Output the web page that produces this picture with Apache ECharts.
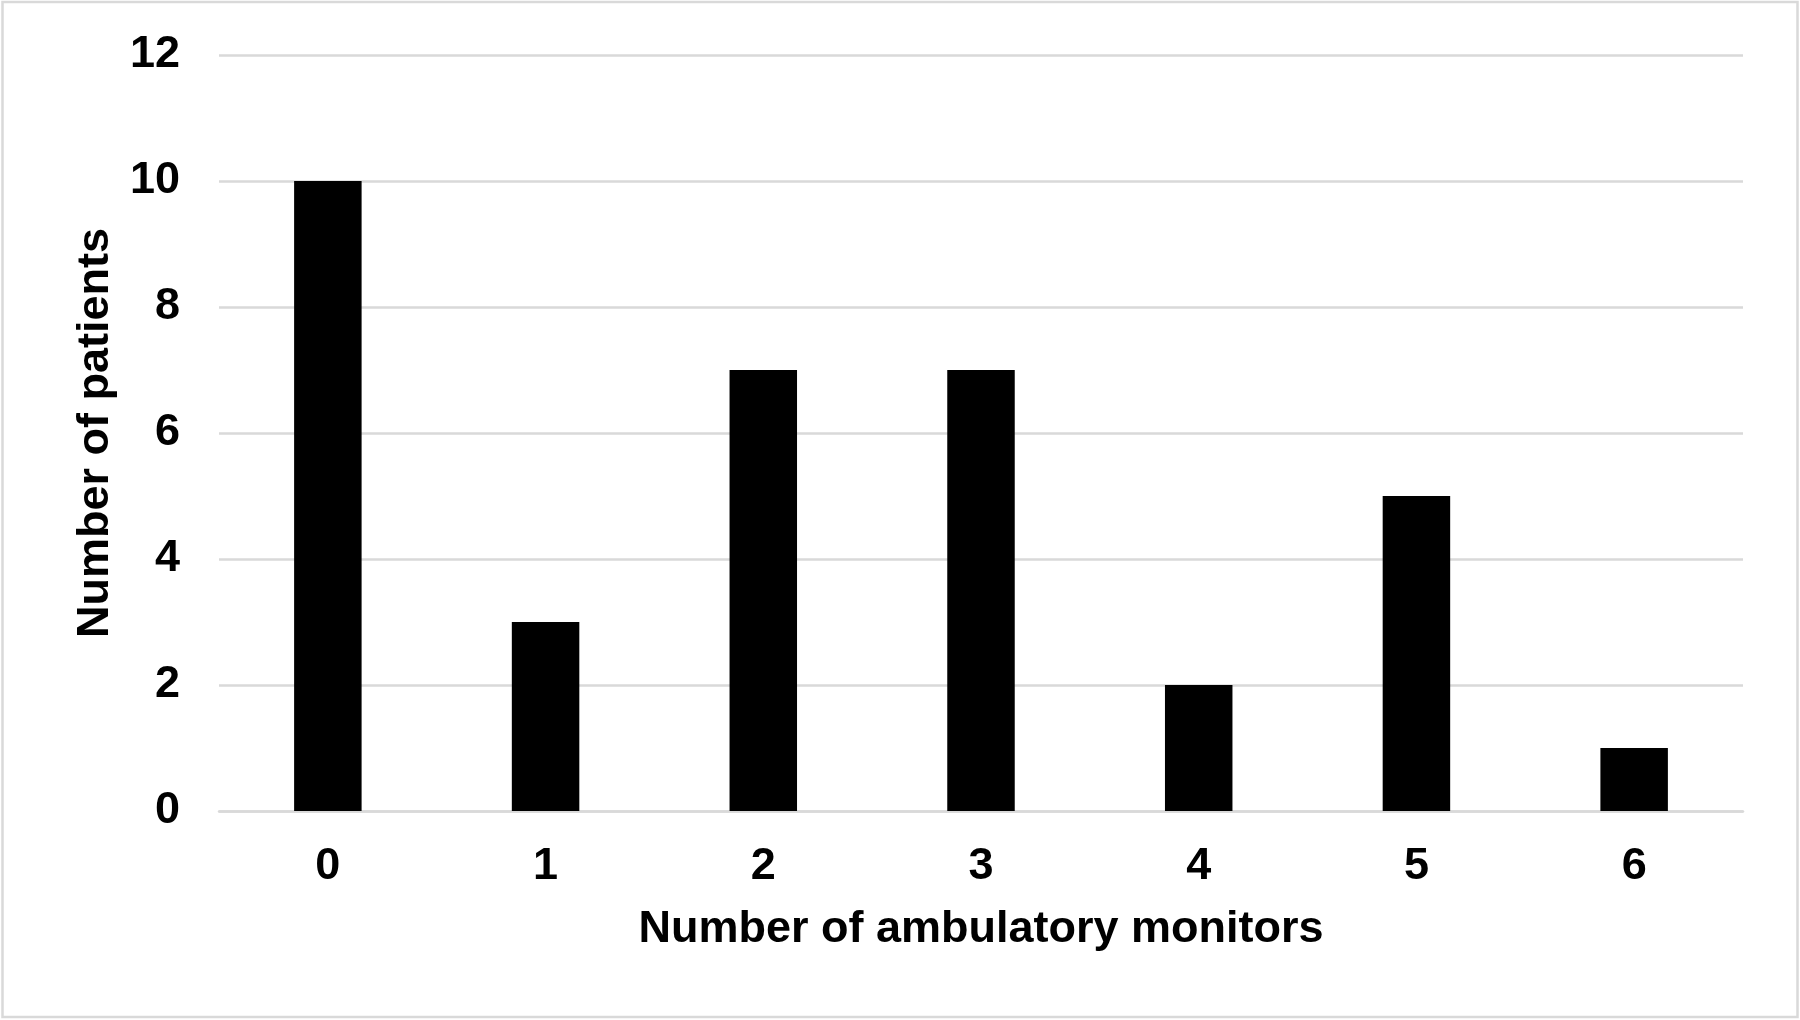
<!DOCTYPE html>
<html>
<head>
<meta charset="utf-8">
<script src="https://cdn.jsdelivr.net/npm/echarts@6/dist/echarts.min.js"></script>
<style>
html,body{margin:0;padding:0;background:#fff;}
#chart{width:1800px;height:1020px;}
</style>
</head>
<body>
<div id="chart"></div>
<script>
const categories = ['0', '1', '2', '3', '4', '5', '6'];
const patients = [10, 3, 7, 7, 2, 5, 1];
const yTicks = { min: 0, max: 12, interval: 2 };
const xTitle = 'Number of ambulatory monitors';
const yTitle = 'Number of patients';

const FONT = '"Liberation Sans", Arial, sans-serif';
const chart = echarts.init(document.getElementById('chart'));
chart.setOption({
  animation: false,
  backgroundColor: '#ffffff',
  graphic: [{
    type: 'rect',
    shape: { x: 2.5, y: 2, width: 1795, height: 1015 },
    style: { fill: 'none', stroke: '#d9d9d9', lineWidth: 2.5 },
    silent: true
  }],
  grid: { left: 219, right: 57, top: 55, bottom: 209 },
  xAxis: {
    type: 'category',
    data: categories,
    name: xTitle,
    nameLocation: 'middle',
    nameGap: 96,
    nameTextStyle: { fontFamily: FONT, fontWeight: 'bold', fontSize: 45, color: '#000' },
    axisLine: { show: true, lineStyle: { color: '#d9d9d9', width: 2.5 } },
    axisTick: { show: false },
    axisLabel: { fontFamily: FONT, fontWeight: 'bold', fontSize: 45, color: '#000', margin: 33 }
  },
  yAxis: {
    type: 'value',
    min: yTicks.min,
    max: yTicks.max,
    interval: yTicks.interval,
    name: yTitle,
    nameLocation: 'middle',
    nameGap: 101,
    nameTextStyle: { fontFamily: FONT, fontWeight: 'bold', fontSize: 45, color: '#000' },
    axisLine: { show: false },
    axisTick: { show: false },
    axisLabel: { fontFamily: FONT, fontWeight: 'bold', fontSize: 45, color: '#000', margin: 39 },
    splitLine: { show: true, lineStyle: { color: '#d9d9d9', width: 2.5 } }
  },
  series: [{
    type: 'bar',
    data: patients,
    barWidth: '31%',
    itemStyle: { color: '#000000' }
  }]
});
</script>
</body>
</html>
